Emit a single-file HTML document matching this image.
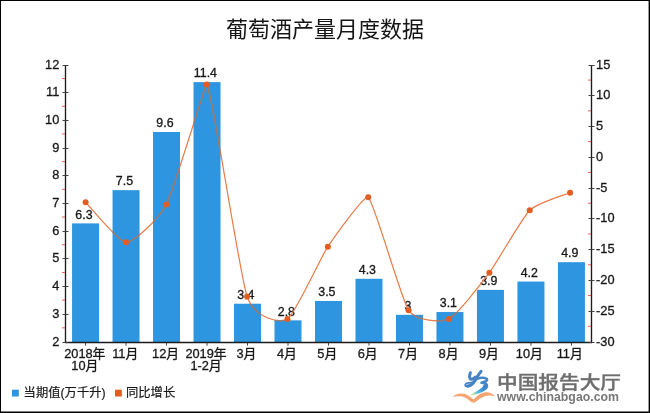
<!DOCTYPE html>
<html lang="zh-CN"><head><meta charset="utf-8"><title>葡萄酒产量月度数据</title>
<style>html,body{margin:0;padding:0;background:#fff;}body{width:650px;height:413px;overflow:hidden;}svg{display:block;}text{font-family:"Liberation Sans", "Noto Sans CJK SC", sans-serif;}</style></head><body>
<svg width="650" height="413" viewBox="0 0 650 413" fill="#1a1a1a">
<rect x="0" y="0" width="650" height="413" fill="#fff"/>
<filter id="soft" x="0" y="0" width="650" height="413" filterUnits="userSpaceOnUse"><feGaussianBlur stdDeviation="0.38"/></filter>
<g filter="url(#soft)">
<rect x="-5" y="-5" width="660" height="423" fill="#fff"/>
<text x="325" y="36.5" font-size="22" text-anchor="middle" font-weight="400" fill="#151515">葡萄酒产量月度数据</text>
<g fill="#2f96e0">
<rect x="72.05" y="223.39" width="27.00" height="119.11"/>
<rect x="112.54" y="190.15" width="27.00" height="152.35"/>
<rect x="153.03" y="131.98" width="27.00" height="210.52"/>
<rect x="193.52" y="82.12" width="27.00" height="260.38"/>
<rect x="234.01" y="303.72" width="27.00" height="38.78"/>
<rect x="274.50" y="320.34" width="27.00" height="22.16"/>
<rect x="314.99" y="300.95" width="27.00" height="41.55"/>
<rect x="355.48" y="278.79" width="27.00" height="63.71"/>
<rect x="395.97" y="314.80" width="27.00" height="27.70"/>
<rect x="436.46" y="312.03" width="27.00" height="30.47"/>
<rect x="476.95" y="289.87" width="27.00" height="52.63"/>
<rect x="517.44" y="281.56" width="27.00" height="60.94"/>
<rect x="557.93" y="262.17" width="27.00" height="80.33"/>
</g>
<g stroke="#1a1a1a" stroke-width="1" fill="none">
<path d="M65.5 65.0 V343.1" stroke-width="1.35"/>
<path d="M591.5 65.0 V343.1" stroke-width="1.35"/>
<path d="M64.9 342.5 H592.1" stroke-width="1.35"/>
<path d="M62.5 65.50 H68.5 M62.5 92.50 H68.5 M62.5 120.50 H68.5 M62.5 148.50 H68.5 M62.5 175.50 H68.5 M62.5 203.50 H68.5 M62.5 231.50 H68.5 M62.5 258.50 H68.5 M62.5 286.50 H68.5 M62.5 314.50 H68.5 M62.5 342.50 H68.5 M588.5 65.50 H594.5 M588.5 95.50 H594.5 M588.5 126.50 H594.5 M588.5 157.50 H594.5 M588.5 188.50 H594.5 M588.5 218.50 H594.5 M588.5 249.50 H594.5 M588.5 280.50 H594.5 M588.5 311.50 H594.5 M588.5 342.50 H594.5 M85.55 342.5 V345.6 M126.04 342.5 V345.6 M166.53 342.5 V345.6 M207.02 342.5 V345.6 M247.51 342.5 V345.6 M288.00 342.5 V345.6 M328.49 342.5 V345.6 M368.98 342.5 V345.6 M409.47 342.5 V345.6 M449.96 342.5 V345.6 M490.45 342.5 V345.6 M530.94 342.5 V345.6 M571.43 342.5 V345.6" stroke="#3a3a3a" stroke-width="0.95"/>
</g>
<path d="M62.0 78.55 H65.0 M62.0 106.25 H65.0 M62.0 133.95 H65.0 M62.0 161.65 H65.0 M62.0 189.35 H65.0 M62.0 217.05 H65.0 M62.0 244.75 H65.0 M62.0 272.45 H65.0 M62.0 300.15 H65.0 M62.0 327.85 H65.0 M588.0 80.09 H591.0 M588.0 110.87 H591.0 M588.0 141.64 H591.0 M588.0 172.42 H591.0 M588.0 203.20 H591.0 M588.0 233.98 H591.0 M588.0 264.76 H591.0 M588.0 295.53 H591.0 M588.0 326.31 H591.0" stroke="#f05a5a" stroke-width="1" fill="none"/>
<g font-size="12.8" stroke="#1a1a1a" stroke-width="0.32">
<text x="59.3" y="69.10" text-anchor="end">12</text>
<text x="59.3" y="96.10" text-anchor="end">11</text>
<text x="59.3" y="124.10" text-anchor="end">10</text>
<text x="59.3" y="152.10" text-anchor="end">9</text>
<text x="59.3" y="179.10" text-anchor="end">8</text>
<text x="59.3" y="207.10" text-anchor="end">7</text>
<text x="59.3" y="235.10" text-anchor="end">6</text>
<text x="59.3" y="262.10" text-anchor="end">5</text>
<text x="59.3" y="290.10" text-anchor="end">4</text>
<text x="59.3" y="318.10" text-anchor="end">3</text>
<text x="59.3" y="346.10" text-anchor="end">2</text>
<text x="596.1" y="69.10">15</text>
<text x="596.1" y="99.10">10</text>
<text x="596.1" y="130.10">5</text>
<text x="596.1" y="161.10">0</text>
<text x="596.1" y="192.10">-5</text>
<text x="596.1" y="222.10">-10</text>
<text x="596.1" y="253.10">-15</text>
<text x="596.1" y="284.10">-20</text>
<text x="596.1" y="315.10">-25</text>
<text x="596.1" y="346.10">-30</text>
<text x="84.80" y="357.70" text-anchor="middle">2018年</text>
<text x="84.80" y="370.10" text-anchor="middle">10月</text>
<text x="125.21" y="357.70" text-anchor="middle">11月</text>
<text x="165.62" y="357.70" text-anchor="middle">12月</text>
<text x="206.03" y="357.70" text-anchor="middle">2019年</text>
<text x="206.03" y="370.10" text-anchor="middle">1-2月</text>
<text x="246.44" y="357.70" text-anchor="middle">3月</text>
<text x="286.85" y="357.70" text-anchor="middle">4月</text>
<text x="327.26" y="357.70" text-anchor="middle">5月</text>
<text x="367.67" y="357.70" text-anchor="middle">6月</text>
<text x="408.08" y="357.70" text-anchor="middle">7月</text>
<text x="448.49" y="357.70" text-anchor="middle">8月</text>
<text x="488.90" y="357.70" text-anchor="middle">9月</text>
<text x="529.31" y="357.70" text-anchor="middle">10月</text>
<text x="569.72" y="357.70" text-anchor="middle">11月</text>
<text x="83.95" y="218.69" text-anchor="middle" font-size="12.4">6.3</text>
<text x="124.44" y="185.45" text-anchor="middle" font-size="12.4">7.5</text>
<text x="164.93" y="127.28" text-anchor="middle" font-size="12.4">9.6</text>
<text x="205.42" y="77.42" text-anchor="middle" font-size="12.4">11.4</text>
<text x="245.91" y="299.02" text-anchor="middle" font-size="12.4">3.4</text>
<text x="286.40" y="315.64" text-anchor="middle" font-size="12.4">2.8</text>
<text x="326.89" y="296.25" text-anchor="middle" font-size="12.4">3.5</text>
<text x="367.38" y="274.09" text-anchor="middle" font-size="12.4">4.3</text>
<text x="407.87" y="310.10" text-anchor="middle" font-size="12.4">3</text>
<text x="448.36" y="307.33" text-anchor="middle" font-size="12.4">3.1</text>
<text x="488.85" y="285.17" text-anchor="middle" font-size="12.4">3.9</text>
<text x="529.34" y="276.86" text-anchor="middle" font-size="12.4">4.2</text>
<text x="569.83" y="257.47" text-anchor="middle" font-size="12.4">4.9</text>
</g>
<clipPath id="cb">
<rect x="72.05" y="223.39" width="27.00" height="119.11"/>
<rect x="112.54" y="190.15" width="27.00" height="152.35"/>
<rect x="153.03" y="131.98" width="27.00" height="210.52"/>
<rect x="193.52" y="82.12" width="27.00" height="260.38"/>
<rect x="234.01" y="303.72" width="27.00" height="38.78"/>
<rect x="274.50" y="320.34" width="27.00" height="22.16"/>
<rect x="314.99" y="300.95" width="27.00" height="41.55"/>
<rect x="355.48" y="278.79" width="27.00" height="63.71"/>
<rect x="395.97" y="314.80" width="27.00" height="27.70"/>
<rect x="436.46" y="312.03" width="27.00" height="30.47"/>
<rect x="476.95" y="289.87" width="27.00" height="52.63"/>
<rect x="517.44" y="281.56" width="27.00" height="60.94"/>
<rect x="557.93" y="262.17" width="27.00" height="80.33"/>
</clipPath>
<path d="M85.60 202.20 C89.37 205.94 118.44 242.04 125.97 242.25 C133.51 242.46 158.81 219.18 166.35 204.45 C173.89 189.72 205.65 83.17 206.72 84.40 C212.11 90.54 239.56 274.59 247.10 296.50 C254.64 318.41 279.94 323.75 287.48 319.10 C295.01 314.45 320.31 258.07 327.85 246.70 C333.23 238.58 364.46 194.33 368.23 197.30 C374.15 201.96 401.06 298.95 408.60 310.30 C416.14 321.65 441.44 322.41 448.98 318.90 C456.51 315.39 481.81 282.84 489.35 272.70 C496.89 262.56 522.19 217.77 529.73 210.30 C537.26 202.83 566.33 194.34 570.10 192.70" fill="none" stroke="#ea7a48" stroke-width="1.2" stroke-linejoin="round"/>
<path d="M85.60 202.20 C89.37 205.94 118.44 242.04 125.97 242.25 C133.51 242.46 158.81 219.18 166.35 204.45 C173.89 189.72 205.65 83.17 206.72 84.40 C212.11 90.54 239.56 274.59 247.10 296.50 C254.64 318.41 279.94 323.75 287.48 319.10 C295.01 314.45 320.31 258.07 327.85 246.70 C333.23 238.58 364.46 194.33 368.23 197.30 C374.15 201.96 401.06 298.95 408.60 310.30 C416.14 321.65 441.44 322.41 448.98 318.90 C456.51 315.39 481.81 282.84 489.35 272.70 C496.89 262.56 522.19 217.77 529.73 210.30 C537.26 202.83 566.33 194.34 570.10 192.70" fill="none" stroke="#8d7b78" stroke-width="1.5" stroke-linejoin="round" clip-path="url(#cb)"/>
<g fill="#e25d20">
<circle cx="85.60" cy="202.20" r="3"/>
<circle cx="125.97" cy="242.25" r="3"/>
<circle cx="166.35" cy="204.45" r="3"/>
<circle cx="206.72" cy="84.40" r="3"/>
<circle cx="247.10" cy="296.50" r="3"/>
<circle cx="287.48" cy="319.10" r="3"/>
<circle cx="327.85" cy="246.70" r="3"/>
<circle cx="368.23" cy="197.30" r="3"/>
<circle cx="408.60" cy="310.30" r="3"/>
<circle cx="448.98" cy="318.90" r="3"/>
<circle cx="489.35" cy="272.70" r="3"/>
<circle cx="529.73" cy="210.30" r="3"/>
<circle cx="570.10" cy="192.70" r="3"/>
</g>
<rect x="12" y="389.7" width="6.8" height="6.8" fill="#2f96e0"/>
<text x="23.6" y="397.3" font-size="12.3" stroke="#1a1a1a" stroke-width="0.2">当期值(万千升)</text>
<rect x="115" y="389.7" width="6.8" height="6.8" fill="#e25d20"/>
<text x="126" y="397.3" font-size="12.3" stroke="#1a1a1a" stroke-width="0.2">同比增长</text>
<defs><linearGradient id="tg" gradientUnits="userSpaceOnUse" x1="469" y1="395" x2="487" y2="384"><stop offset="0" stop-color="#f1f28c"/><stop offset="0.22" stop-color="#a8dfa8"/><stop offset="0.42" stop-color="#56bfe6"/><stop offset="0.7" stop-color="#3b8fd2"/><stop offset="1" stop-color="#3a7cc0"/></linearGradient></defs>
<g id="logo" fill="none" stroke-linecap="round" stroke-linejoin="round">
<path d="M452.4 396.8 C454.5 395 457 393.6 461.6 393.4 C466 393.4 470 396 473.6 399.4 C477 395.6 481 392.9 485.5 392.3 C489.5 391.9 492.8 393.6 495.2 396.4 C492 395.2 488.5 395.2 485.6 396 C481.5 397.2 478 400 474.6 402.6 L472 402.6 C468.8 400 466 397.6 463.2 396.8 C459.6 396 456 396.2 452.4 396.8 Z" fill="#f5a472" stroke="none"/>
<path d="M488.2 385.4 C488.6 388.6 484.2 391.4 478.6 393.4 C475 394.6 472 395.2 469.2 395.5 C472.6 393.6 476.4 391.8 479.4 389.6 C481.8 387.8 483.4 386.6 483.4 384.8 Z" fill="url(#tg)" stroke="none"/>
<path d="M470.35 372.72 C469.62 374.65 469.26 377.07 470.11 378.65 C470.95 379.98 473.25 379.25 475.43 377.07" stroke="#4583c2" stroke-width="3.0"/>
<path d="M481.00 371.51 C478.94 373.75 477.12 377.07 474.95 380.58 C473.13 383.43 470.47 385.79 467.44 386.15" stroke="#4583c2" stroke-width="3.1"/>
<path d="M467.57 386.39 C465.15 386.51 464.54 385.18 465.75 383.97 C467.08 382.76 469.86 382.52 473.25 382.40" stroke="#4583c2" stroke-width="1.7"/>
<path d="M477.12 378.77 C480.15 377.44 485.96 377.20 487.05 379.37 C487.41 381.07 484.50 382.16 481.48 382.76 C484.50 382.88 487.29 384.09 486.68 386.15" stroke="#4587c7" stroke-width="2.7"/>
</g>
<g id="wm">
<text transform="translate(497.0 389.0) scale(1.155 1)" x="0" y="0" font-size="17.9" font-weight="500" fill="#6e6e6e" stroke="#6e6e6e" stroke-width="0.35">中国报告大厅</text>
<text x="497" y="400.8" font-size="13" font-weight="700" fill="#777777" textLength="122" lengthAdjust="spacingAndGlyphs">www.chinabgao.com</text>
</g>
</g>
<path d="M0 0.5H650 M0.5 0V413" stroke="#000" stroke-width="1" fill="none"/>
<rect x="648.6" y="0" width="1.4" height="413" fill="#000"/>
<rect x="0" y="411.5" width="650" height="1.5" fill="#000"/>
</svg></body></html>
